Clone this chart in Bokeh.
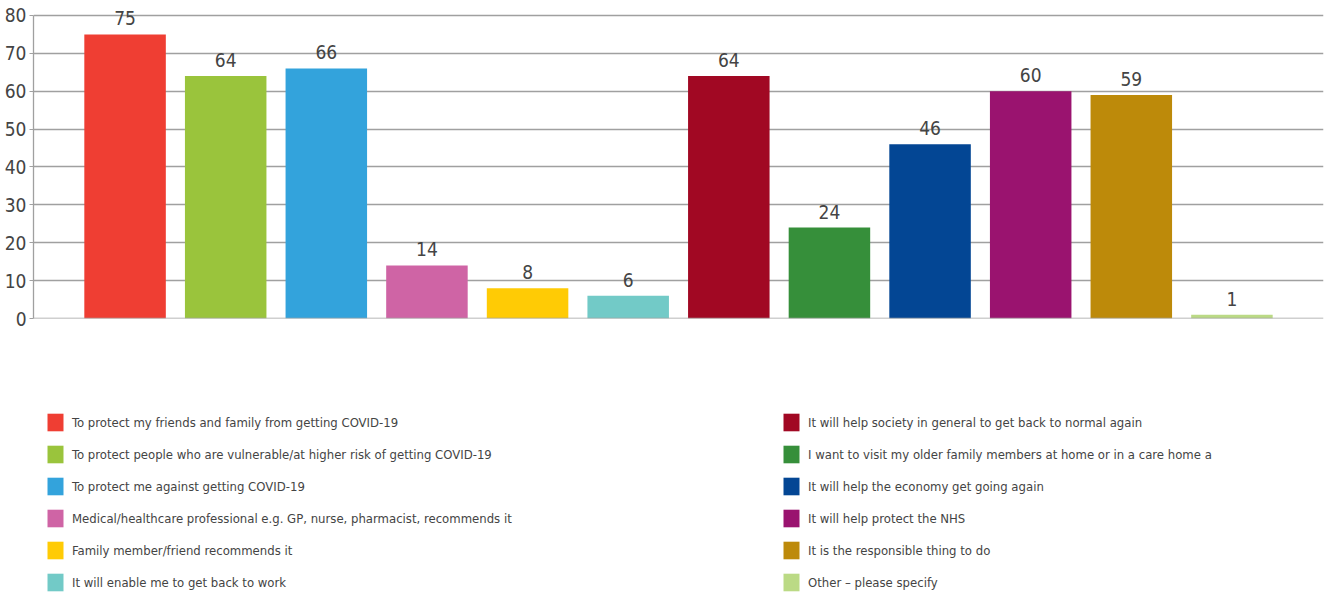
from bokeh.plotting import figure
from bokeh.layouts import column
from bokeh.models import (ColumnDataSource, Range1d, FixedTicker, Legend, LegendItem, Span)
from bokeh.embed import file_html
from bokeh.resources import INLINE
from bokeh.core.properties import value

categories = [
    "To protect my friends and family from getting COVID-19",
    "To protect people who are vulnerable/at higher risk of getting COVID-19",
    "To protect me against getting COVID-19",
    "Medical/healthcare professional e.g. GP, nurse, pharmacist, recommends it",
    "Family member/friend recommends it",
    "It will enable me to get back to work",
    "It will help society in general to get back to normal again",
    "I want to visit my older family members at home or in a care home a",
    "It will help the economy get going again",
    "It will help protect the NHS",
    "It is the responsible thing to do",
    "Other \u2013 please specify",
]
values = [75, 64, 66, 14, 8, 6, 64, 24, 46, 60, 59, 1]
colors = ["#EF3E33", "#9AC43C", "#33A3DC", "#CF64A5", "#FFCB05", "#72CAC7",
          "#A10823", "#368F3A", "#034694", "#9A136F", "#BD8A0A", "#BBDA85"]
y_ticks = [0, 10, 20, 30, 40, 50, 60, 70, 80]

FONT = "DejaVu Sans Condensed"
TXT = "#444444"
GRID = "#a0a0a0"

src = ColumnDataSource(dict(
    x=list(range(len(categories))),
    top=values,
    color=colors,
    label=[str(v) for v in values],
    cat=categories,
))

p = figure(width=1325, height=340, output_backend="svg", toolbar_location=None,
           x_range=Range1d(-0.91, len(categories) - 0.09), y_range=Range1d(0, 82.1),
           min_border_left=33, min_border_right=2, min_border_top=7,
           min_border_bottom=22, outline_line_color=None)

r = p.vbar(x="x", top="top", bottom=0, width=0.81, fill_color="color", line_color=None, source=src)
p.text(x="x", y="top", text="label", source=src, text_align="center", text_baseline="bottom",
       y_offset=-9, text_font=value(FONT), text_font_size="19px", text_color=TXT)

p.add_layout(Span(location=0, dimension="width", line_color=GRID, line_width=1.5, level="overlay"))

p.xaxis.visible = False
p.xgrid.visible = False
p.ygrid.ticker = FixedTicker(ticks=y_ticks)
p.ygrid.grid_line_color = GRID
p.ygrid.grid_line_width = 1.4

ya = p.yaxis[0]
ya.ticker = FixedTicker(ticks=y_ticks)
ya.bounds = (0, 80)
ya.axis_line_color = GRID
ya.axis_line_width = 1.3
ya.major_tick_line_color = GRID
ya.major_tick_in = 0
ya.major_tick_out = 4
ya.minor_tick_line_color = None
ya.major_label_text_font = FONT
ya.major_label_text_font_size = "19px"
ya.major_label_text_color = TXT
ya.major_label_standoff = 3

# legend panel
q = figure(width=1325, height=254, output_backend="svg", toolbar_location=None,
           x_range=Range1d(0, 1325), y_range=Range1d(1000, 1254),
           min_border=0, outline_line_color=None)
q.axis.visible = False
q.grid.visible = False
rl = q.vbar(x="x", top="top", bottom=0, width=0.81, fill_color="color", line_color=None,
            source=src)

def make_legend(idx, loc):
    items = [LegendItem(label=categories[i], renderers=[rl], index=i) for i in idx]
    return Legend(items=items, location=loc, padding=0, margin=0, spacing=10,
                  glyph_width=20, glyph_height=22, label_height=22, label_standoff=7,
                  label_text_font=FONT, label_text_font_size="13px", label_text_color=TXT,
                  border_line_color=None, background_fill_alpha=0)

q.add_layout(make_legend(range(0, 6), (12, 1)), "center")
q.add_layout(make_legend(range(6, 12), (748, 1)), "center")

layout = column(p, q, spacing=0)
open("out.html", "w").write(file_html(layout, INLINE))
